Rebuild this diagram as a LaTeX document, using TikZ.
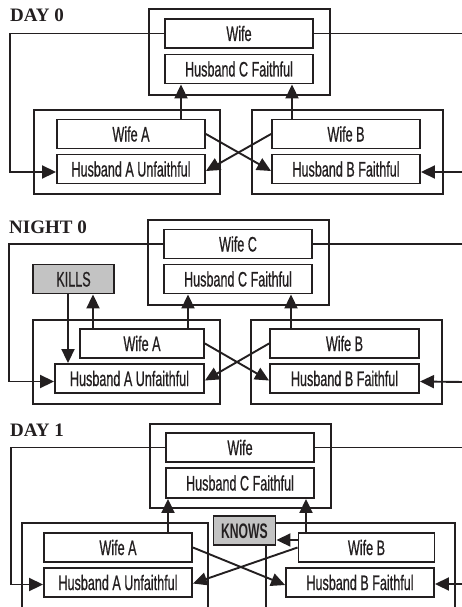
\documentclass[tikz,border=0pt]{standalone}
\usepackage{fontspec}
\newfontfamily\boxfont[FakeStretch=0.6,FakeBold=0.6]{Liberation Sans}
\newfontfamily\knowsfont[FakeStretch=0.58]{Liberation Sans}
\newfontfamily\titlefont{Liberation Serif}
\usetikzlibrary{arrows.meta}
\definecolor{boxgray}{RGB}{195,195,195}
\definecolor{ink}{RGB}{35,31,32}
\begin{document}
\begin{tikzpicture}[x=1pt,y=-1pt,
  ln/.style={line width=1.9pt, draw=ink},
  inbox/.style={draw=ink, ln, rectangle, minimum width=148pt, minimum height=29pt, inner sep=0pt,
    text height=15pt, text depth=0pt, fill=white, text=ink, font=\boxfont\fontsize{21}{23}\selectfont},
  outbox/.style={draw=ink, ln, rectangle, inner sep=0pt},
  graybox/.style={inbox, fill=boxgray},
  arr/.style={ln, -{Triangle[length=14pt,width=13pt]}},
  ttl/.style={anchor=base west, inner sep=0pt, text=ink, font=\titlefont\bfseries\fontsize{19}{21}\selectfont}]
\useasboundingbox (0,0) rectangle (462,607);
\clip (0,0) rectangle (462,607);

% ---------------- DAY 0 ----------------
\node[outbox, minimum width=181pt, minimum height=86pt] (C0) at (239.5,52) {};
\node[outbox, minimum width=186pt, minimum height=84pt] (A0) at (127,152) {};
\node[outbox, minimum width=191pt, minimum height=84pt] (B0) at (347.5,152) {};
\node[ttl] (T0) at (10,22) {DAY 0};
\coordinate (L0) at (10,0);
\coordinate (R0) at (464,33.5);
\coordinate (R0b) at (464,172);
\node[inbox] (W0) at (239,33.5) {Wife};
\node[inbox] (HC0) at (239,69) {Husband C Faithful};
\node[inbox] (WA0) at (131,134) {Wife A};
\node[inbox] (HA0) at (131,169) {Husband A Unfaithful};
\node[inbox] (WB0) at (346,134) {Wife B};
\node[inbox] (HB0) at (346,169) {Husband B Faithful};
\draw[arr] (W0.west) -- (W0.west -| L0) |- ([yshift=-3pt]HA0.west);
\draw[ln] (W0.east) -- (R0);
\draw[arr] (R0b) -- ([yshift=-3pt]HB0.east);
\draw[arr] ([xshift=50pt]WA0.north) -- ([xshift=50pt]WA0.north |- HC0.south);
\draw[arr] ([xshift=-54pt]WB0.north) -- ([xshift=-54pt]WB0.north |- HC0.south);
\draw[arr] (WA0.east) -- ([yshift=-2pt]HB0.west);
\draw[arr] (WB0.west) -- ([yshift=-2pt]HA0.east);

% ---------------- NIGHT 0 ----------------
\node[outbox, minimum width=181pt, minimum height=85pt] (C1) at (238.5,262.5) {};
\node[outbox, minimum width=187pt, minimum height=84pt] (A1) at (126.5,362) {};
\node[outbox, minimum width=191pt, minimum height=84pt] (B1) at (346.5,362) {};
\node[ttl] (T1) at (9,233) {NIGHT 0};
\coordinate (L1) at (9,0);
\coordinate (R1) at (464,244);
\coordinate (R1b) at (464,382);
\node[inbox] (WC1) at (238,244) {Wife C};
\node[inbox] (HC1) at (238,279) {Husband C Faithful};
\node[graybox, minimum width=81pt] (K1) at (73.5,279) {KILLS};
\node[inbox, minimum width=124pt] (WA1) at (142,343.5) {Wife A};
\node[inbox, minimum width=149pt] (HA1) at (129.5,378.5) {Husband A Unfaithful};
\node[inbox, minimum width=149pt] (WB1) at (344.5,343.5) {Wife B};
\node[inbox, minimum width=149pt] (HB1) at (344.5,378.5) {Husband B Faithful};
\draw[arr] (WC1.west) -- (WC1.west -| L1) |- ([yshift=-3pt]HA1.west);
\draw[ln] (WC1.east) -- (R1);
\draw[arr] (R1b) -- ([yshift=-3pt]HB1.east);
\draw[arr] ([xshift=-5.5pt]K1.south) -- ([xshift=-5.5pt]K1.south |- HA1.north);
\draw[arr] ([xshift=-49pt]WA1.north) -- ([xshift=-49pt]WA1.north |- K1.south);
\draw[arr] ([xshift=46pt]WA1.north) -- ([xshift=46pt]WA1.north |- HC1.south);
\draw[arr] ([xshift=-53.5pt]WB1.north) -- ([xshift=-53.5pt]WB1.north |- HC1.south);
\draw[arr] (WA1.east) -- ([yshift=-2pt]HB1.west);
\draw[arr] (WB1.west) -- ([yshift=-2pt]HA1.east);

% ---------------- DAY 1 ----------------
\node[outbox, minimum width=181pt, minimum height=84pt] (C2) at (240.5,466) {};
\node[outbox, minimum width=186pt, minimum height=94pt] (A2) at (115,570) {};
\node[outbox, minimum width=189pt, minimum height=94pt] (B2) at (360.5,570) {};
\node[ttl] (T2) at (10,436) {DAY 1};
\coordinate (L2) at (11,0);
\coordinate (R2) at (464,447.5);
\coordinate (R2b) at (464,584);
\node[inbox] (W2) at (240,447.5) {Wife};
\node[inbox, minimum height=30pt] (HC2) at (240,483) {Husband C Faithful};
\node[graybox, minimum width=62pt, font=\knowsfont\bfseries\fontsize{21}{23}\selectfont] (KN) at (244.5,530.5) {KNOWS};
\node[inbox] (WA2) at (118,547.5) {Wife A};
\node[inbox] (HA2) at (118,582.5) {Husband A Unfaithful};
\node[inbox, minimum width=136pt] (WB2) at (366.5,547.5) {Wife B};
\node[inbox] (HB2) at (360,582.5) {Husband B Faithful};
\draw[arr] (W2.west) -- (W2.west -| L2) |- ([yshift=-2pt]HA2.west);
\draw[ln] (W2.east) -- (R2);
\draw[arr] (R2b) -- ([yshift=-1.5pt]HB2.east);
\draw[arr] ([xshift=50pt]WA2.north) -- ([xshift=50pt]WA2.north |- HC2.south);
\draw[arr] ([xshift=-60.5pt]WB2.north) -- ([xshift=-60.5pt]WB2.north |- HC2.south);
\draw[arr] ([yshift=7.5pt]WB2.west) -- ([yshift=7.5pt]WB2.west -| KN.east);
\draw[arr] (WA2.east) -- ([yshift=-2.5pt]HB2.west);
\draw[arr] (WB2.west) -- ([yshift=-1pt]HA2.east);
\end{tikzpicture}
\end{document}
